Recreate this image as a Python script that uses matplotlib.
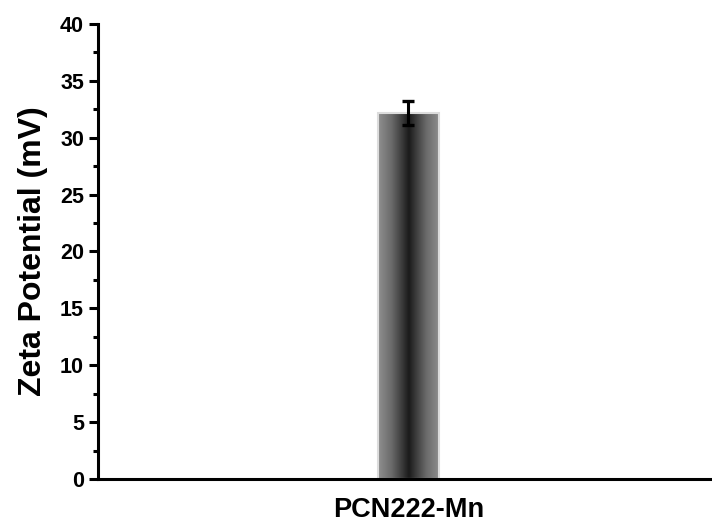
import numpy as np
import matplotlib
matplotlib.use("Agg")
import matplotlib.pyplot as plt
from matplotlib.colors import LinearSegmentedColormap

plt.rcParams["font.family"] = ["Liberation Sans", "DejaVu Sans"]
plt.rcParams["font.weight"] = "bold"

samples = ["PCN222-Mn"]
zeta = [32.2]
zeta_err = [1.05]

fig = plt.figure(figsize=(7.12, 5.26), dpi=100)
ax = fig.add_axes([0.1376, 0.0894, 0.8624, 0.865])

x = np.arange(len(samples))
bars = ax.bar(x, zeta, width=0.1, color="none", edgecolor="#dcdcdc", linewidth=1.5, zorder=2)

# horizontal gradient: dark in the middle, grey at the edges
cmap = LinearSegmentedColormap.from_list(
    "bar",
    [(0.0, "#909090"), (0.22, "#6a6a6a"), (0.4, "#383838"), (0.5, "#1a1a1a"),
     (0.6, "#383838"), (0.78, "#6a6a6a"), (1.0, "#909090")],
)
grad = np.linspace(0, 1, 256).reshape(1, -1)
for b in bars:
    x0, w, h = b.get_x(), b.get_width(), b.get_height()
    im = ax.imshow(grad, cmap=cmap, aspect="auto", extent=[x0, x0 + w, 0, h],
                   zorder=1, interpolation="bicubic")
    im.set_clip_path(b)

ax.errorbar(x, zeta, yerr=zeta_err, fmt="none", ecolor="black", elinewidth=2.2,
            capsize=4.5, capthick=2.4, zorder=3)

ax.set_xlim(-0.5057, 0.4943)
ax.set_ylim(0, 40)
ax.set_yticks(np.arange(0, 41, 5))
ax.set_yticks(np.arange(2.5, 40, 5), minor=True)
ax.set_xticks(x)
ax.set_xticklabels(samples, fontsize=19.5, fontweight="bold")
ax.tick_params(axis="x", length=0, pad=13)
ax.tick_params(axis="y", which="major", length=6.5, width=2.2, labelsize=15.5, direction="out")
ax.tick_params(axis="y", which="minor", length=3.5, width=2.2, direction="out")
ax.set_ylabel("Zeta Potential (mV)", fontsize=23, fontweight="bold", labelpad=9)

for s in ["top", "right"]:
    ax.spines[s].set_visible(False)
for s in ["left", "bottom"]:
    ax.spines[s].set_linewidth(2.2)

fig.savefig("out.png", dpi=100)
